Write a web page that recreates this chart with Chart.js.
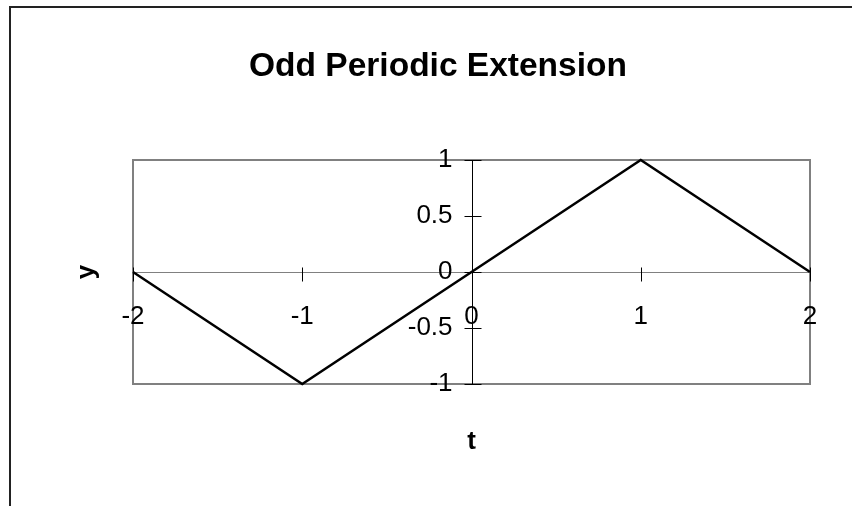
<!DOCTYPE html>
<html>
<head>
<meta charset="utf-8">
<title>Odd Periodic Extension</title>
<script src="https://cdn.jsdelivr.net/npm/chart.js@4/dist/chart.umd.min.js"></script>
<style>
    html, body { margin: 0; padding: 0; background: #fff; overflow: hidden; }
    #wrap { position: relative; width: 852px; height: 506px; }
    #frame {
        position: absolute; left: 9px; top: 6px; width: 900px; height: 600px;
        border-top: 2px solid #222; border-left: 2px solid #222;
        pointer-events: none;
    }
    canvas { position: absolute; left: 0; top: 0; }
</style>
</head>
<body>
<div id="wrap">
    <canvas id="chart" width="852" height="506"></canvas>
    <div id="frame"></div>
</div>
<script>
const tValues = [-2, -1, 0, 1, 2];
const yValues = [0, -1, 0, 1, 0];
const xTicks = [-2, -1, 0, 1, 2];
const yTicks = [-1, -0.5, 0, 0.5, 1];

const fontFamily = "'Liberation Sans', Arial, sans-serif";
const tickFont = { family: fontFamily, size: 26 };
const titleFont = { family: fontFamily, size: 26, weight: 'bold' };

// gray frame around the plot area, drawn under the tick labels
const plotFrame = {
    id: 'plotFrame',
    beforeDraw(chart) {
        const { ctx, chartArea: a } = chart;
        ctx.save();
        ctx.strokeStyle = '#808080';
        ctx.lineWidth = 2;
        ctx.strokeRect(a.left, a.top, a.right - a.left, a.bottom - a.top);
        ctx.restore();
    },
};

// vertical axis line at t = 0 and tick marks crossing both axes, Excel style
const crossTicks = {
    id: 'crossTicks',
    afterDraw(chart) {
        const { ctx, chartArea: a, scales: { x, y } } = chart;
        const x0 = Math.round(x.getPixelForValue(0)) + 0.5;
        const y0 = Math.round(y.getPixelForValue(0)) + 0.5;
        ctx.save();
        ctx.strokeStyle = '#000';
        ctx.lineWidth = 1;
        ctx.beginPath();
        ctx.moveTo(x0, a.top);
        ctx.lineTo(x0, a.bottom);
        xTicks.forEach(v => {
            const px = Math.round(x.getPixelForValue(v)) + 0.5;
            ctx.moveTo(px, y0 - 5);
            ctx.lineTo(px, y0 + 9);
        });
        yTicks.forEach(v => {
            const py = Math.round(y.getPixelForValue(v)) + 0.5;
            ctx.moveTo(x0 - 8, py);
            ctx.lineTo(x0 + 9, py);
        });
        ctx.stroke();
        ctx.restore();
    },
};

const hidden = {
    type: 'linear',
    display: true,
    grid: { display: false, drawTicks: false },
    border: { display: false },
    ticks: { display: false },
};

new Chart(document.getElementById('chart'), {
    type: 'line',
    data: {
        datasets: [{
            data: tValues.map((t, i) => ({ x: t, y: yValues[i] })),
            borderColor: '#000',
            borderWidth: 2.5,
            pointRadius: 0,
            fill: false,
            tension: 0,
            clip: false,
        }],
    },
    options: {
        responsive: false,
        animation: false,
        layout: { padding: { left: 66, right: 42, top: 0, bottom: 0 } },
        plugins: {
            legend: { display: false },
            tooltip: { enabled: false },
            title: {
                display: true,
                text: 'Odd Periodic Extension',
                color: '#000',
                font: { family: fontFamily, size: 33.5, weight: 'bold' },
                padding: { top: 46.5, bottom: 73.3 },
            },
        },
        scales: {
            x: {
                type: 'linear',
                min: -2,
                max: 2,
                position: { y: 0 },
                afterBuildTicks: s => { s.ticks = xTicks.map(v => ({ value: v })); },
                grid: { display: false, drawTicks: false },
                border: { display: true, color: '#808080', width: 1 },
                ticks: {
                    color: '#000',
                    font: tickFont,
                    padding: 29,
                    maxRotation: 0,
                    callback: v => String(v),
                },
            },
            y: {
                type: 'linear',
                min: -1,
                max: 1,
                // labels sit a little left of the t = 0 line, which the plugin draws
                position: { x: -0.112 },
                afterBuildTicks: s => { s.ticks = yTicks.map(v => ({ value: v })); },
                grid: { display: false, drawTicks: false },
                border: { display: false },
                ticks: {
                    color: '#000',
                    font: tickFont,
                    callback: v => String(v),
                },
            },
            x2: {
                ...hidden,
                position: 'bottom',
                title: {
                    display: true, text: 't', color: '#000', font: titleFont,
                    padding: { top: 42.4, bottom: 48.4 },
                },
            },
            y2: {
                ...hidden,
                position: 'left',
                title: {
                    display: true, text: 'y', color: '#000', font: titleFont,
                    padding: { top: 5.4, bottom: 30.4 },
                },
            },
        },
    },
    plugins: [plotFrame, crossTicks],
});
</script>
</body>
</html>
